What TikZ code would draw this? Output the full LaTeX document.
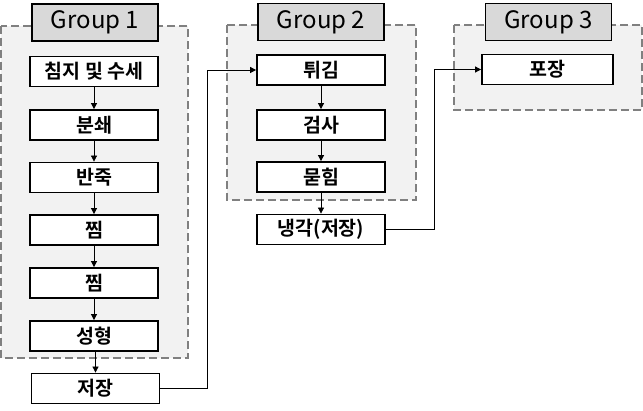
\documentclass[tikz,border=0pt]{standalone}
\usepackage{fontspec}
\setmainfont{Noto Sans CJK KR}[BoldFont={Noto Sans CJK KR Bold}]
\usetikzlibrary{arrows.meta,calc}
\definecolor{regionfill}{HTML}{F2F2F2}
\definecolor{labelfill}{HTML}{D9D9D9}
\definecolor{dashgray}{HTML}{808080}
\tikzset{
  stepbox/.style={draw=black, line width=1.8pt, fill=white, minimum width=128pt, minimum height=30pt, inner sep=0pt, font=\fontsize{19.5}{20}\selectfont\bfseries},
  grouplabel/.style={draw=black, line width=1.8pt, fill=labelfill, minimum width=126pt, minimum height=37pt, inner sep=0pt, font=\fontsize{24}{26}\selectfont},
  region/.style={draw=dashgray, fill=regionfill, line width=1.8pt, dash pattern=on 8pt off 4pt},
  arr/.style={draw=black, line width=0.8pt, -{Triangle[length=6pt,width=6pt]}}
}
\begin{document}
\begin{tikzpicture}[x=1pt,y=-1pt]
\useasboundingbox (0,0) rectangle (643,411);
% regions
\draw[region] (1,26) rectangle (188,358);
\draw[region] (227,25) rectangle (416,200);
\draw[region] (454,25) rectangle (642,110);
% group labels
\node[grouplabel] (g1) at (95,22.5) {Group 1};
\node[grouplabel] (g2) at (321,22) {Group 2};
\node[grouplabel] (g3) at (548.5,22) {Group 3};
% group 1 steps
\node[stepbox] (a1) at (94,71.5) {침지 및 수세};
\node[stepbox] (a2) at (94,125) {분쇄};
\node[stepbox] (a3) at (94,177.5) {반죽};
\node[stepbox] (a4) at (94,230) {찜};
\node[stepbox] (a5) at (94,283) {찜};
\node[stepbox] (a6) at (94,336) {성형};
\node[stepbox] (a7) at (95.5,388.5) {저장};
% group 2 steps
\node[stepbox] (b1) at (321,70) {튀김};
\node[stepbox] (b2) at (321,125) {검사};
\node[stepbox] (b3) at (321,177) {묻힘};
\node[stepbox] (b4) at (321,229.5) {냉각(저장)};
% group 3
\node[stepbox, minimum width=131pt] (c1) at (547.5,69.5) {포장};
% vertical arrows
\draw[arr] (a1) -- (a2);
\draw[arr] (a2) -- (a3);
\draw[arr] (a3) -- (a4);
\draw[arr] (a4) -- (a5);
\draw[arr] (a5) -- (a6);
\draw[arr] (a6.south -| a7.north) -- (a7.north);
\draw[arr] (b1) -- (b2);
\draw[arr] (b2) -- (b3);
\draw[arr] (b3) -- (b4);
% cross connectors
\coordinate (k1) at (207,0);
\coordinate (k2) at (434,0);
\draw[arr] (a7.east) -- (a7.east -| k1) |- (b1.west);
\draw[arr] (b4.east) -- (b4.east -| k2) |- (c1.west);
\end{tikzpicture}
\end{document}
